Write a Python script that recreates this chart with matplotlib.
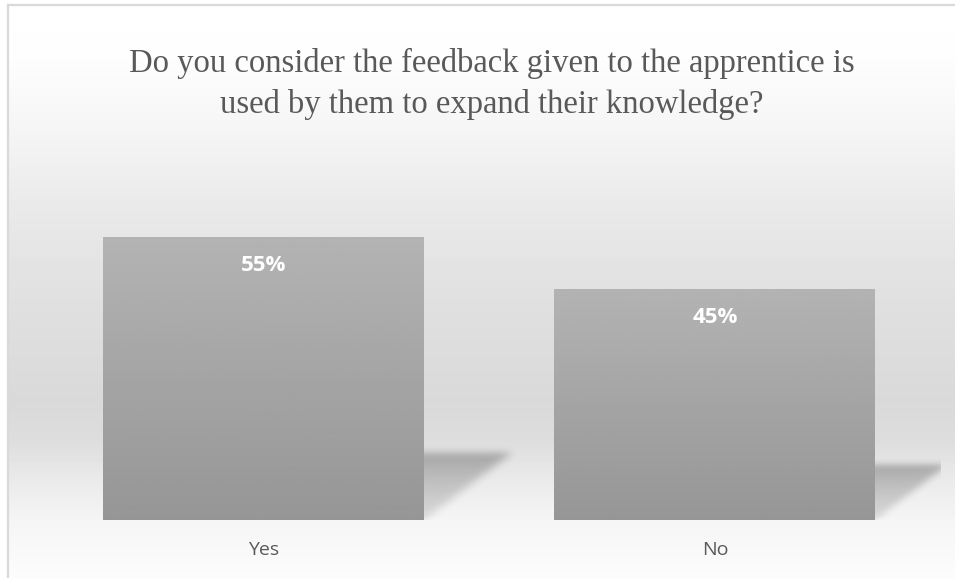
import numpy as np
import matplotlib
matplotlib.use("Agg")
import matplotlib.pyplot as plt
from matplotlib.path import Path

# survey answers
answers = ["Yes", "No"]
shares = [55, 45]
title = ("Do you consider the feedback given to the apprentice is\n"
         "used by them to expand their knowledge?")

W, H = 955, 578
TEXT_GREY = "#595959"


def blur1d(a, sigma, axis):
    r = int(3 * sigma)
    k = np.exp(-0.5 * (np.arange(-r, r + 1) / sigma) ** 2)
    k /= k.sum()
    return np.apply_along_axis(lambda v: np.convolve(v, k, mode="same"), axis, a)


fig = plt.figure(figsize=(W / 100, H / 100), dpi=100)
fig.patch.set_facecolor("white")

# chart area background: white at the top, grey band, lighter floor
bg = fig.add_axes([0, 0, 1, 1], zorder=-10)
bg.set_xlim(0, W)
bg.set_ylim(H, 0)
bg.axis("off")
stops_y = [5, 60, 130, 200, 300, 400, 440, 480, 520, 578]
stops_v = [255, 253, 245, 234, 224, 217, 221, 234, 245, 252]
rows = np.interp(np.arange(H), stops_y, stops_v) / 255.0
grad = np.repeat(rows[:, None], 2, axis=1)
bg.imshow(grad, cmap="gray", vmin=0, vmax=1, aspect="auto",
          extent=(8, W, H, 0), interpolation="nearest")
bg.plot([8, 8], [5, H], color="#d9d9d9", lw=1.6)
bg.plot([8, W], [5, 5], color="#d9d9d9", lw=1.6)

ax = fig.add_axes([0.0395, 0.1003, 0.9455, 0.5336])
ax.patch.set_alpha(0)
for s in ax.spines.values():
    s.set_visible(False)
ax.set_yticks([])
ax.tick_params(axis="x", length=0, pad=15)

x = np.arange(len(answers))
width = 0.711
bars = ax.bar(x, shares, width=width, color="none", zorder=3)

# floor shadows cast up and to the right of each bar (soft mask images)
for xi, h in zip(x, shares):
    top = 0.237 * h
    shift = 0.00353 * h
    xl, xr = xi - width / 2, xi + width / 2
    poly = Path([(xl, 0), (xr, 0), (xr + shift, top), (xl + shift, top), (xl, 0)])
    gx = np.linspace(xr - 0.02, xr + shift + 0.08, 200)
    gy = np.linspace(0, top + 3, 160)
    XX, YY = np.meshgrid(gx, gy)
    mask = poly.contains_points(np.c_[XX.ravel(), YY.ravel()]).reshape(XX.shape)
    # darker towards the top edge, fading towards the floor
    fade = 0.45 + 0.55 * np.clip(YY / top, 0, 1) ** 1.5
    soft = blur1d(blur1d(mask * fade, 7.0, 0), 7.0, 1)
    rgba = np.zeros(soft.shape + (4,))
    rgba[..., 3] = 0.27 * soft
    ax.imshow(rgba, origin="lower", aspect="auto", zorder=1,
              extent=(gx[0], gx[-1], gy[0], gy[-1]), interpolation="bilinear")

# vertical grey gradient inside each bar
shade = np.linspace(179, 150, 256)[:, None] / 255.0
for b in bars:
    x0, w, h = b.get_x(), b.get_width(), b.get_height()
    im = ax.imshow(shade, cmap="gray", vmin=0, vmax=1, aspect="auto",
                   extent=(x0, x0 + w, 0, h), zorder=2, interpolation="bilinear")
    im.set_clip_path(b)
ax.set_xlim(-0.5, 1.5)
ax.set_ylim(0, 60)

for xi, v in zip(x, shares):
    ax.annotate(f"{v}%", (xi, v), xytext=(0, -13), textcoords="offset points",
                ha="center", va="top", color="white", fontsize=16,
                fontweight="bold", family="Open Sans", zorder=4)

ax.set_xticks(x)
ax.set_xticklabels(answers, fontsize=14, color=TEXT_GREY, family="Open Sans")

fig.text(0.515, 1 - 84 / H, title, ha="center", va="center", fontsize=23.5,
         color=TEXT_GREY, family="Liberation Serif", linespacing=1.4)

fig.savefig("out.png", dpi=100)
